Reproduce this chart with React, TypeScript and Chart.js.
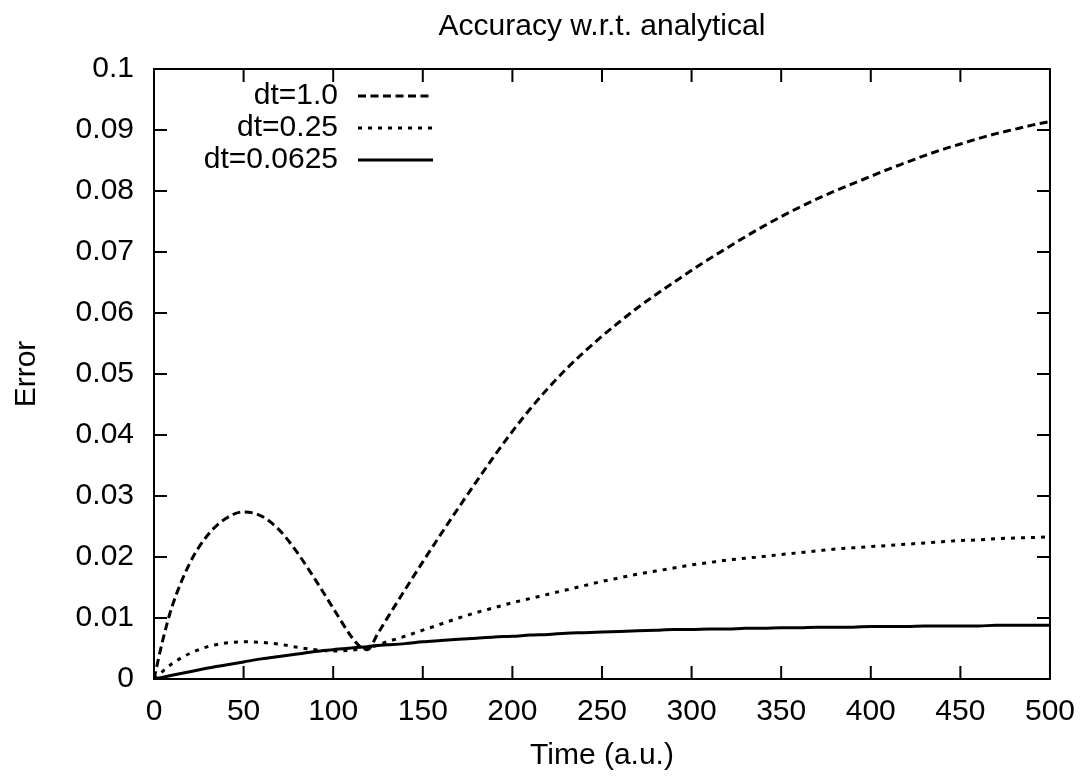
import React, { useEffect, useRef } from 'react';
import { Chart, registerables } from 'chart.js';

Chart.register(...registerables);

const times = [0, 5, 10, 20, 30, 40, 50, 60, 70, 80, 90, 100, 110, 115, 119, 125, 130, 140, 150, 160, 170, 180, 190, 200, 210, 220, 230, 240, 250, 260, 270, 280, 290, 300, 310, 320, 330, 340, 350, 360, 370, 380, 390, 400, 410, 420, 430, 440, 450, 460, 470, 480, 490, 500];

const errDt1 = [0, 0.0065, 0.0118, 0.0190, 0.0236, 0.0263, 0.0274, 0.0267, 0.0244, 0.0207, 0.0163, 0.0116, 0.0070, 0.0053, 0.0048, 0.0075, 0.0099, 0.0146, 0.0192, 0.0237, 0.0281, 0.0324, 0.0366, 0.0406, 0.0443, 0.0477, 0.0508, 0.0536, 0.0562, 0.0586, 0.0609, 0.0630, 0.0650, 0.0670, 0.0689, 0.0707, 0.0725, 0.0742, 0.0758, 0.0773, 0.0787, 0.0800, 0.0812, 0.0824, 0.0836, 0.0847, 0.0858, 0.0868, 0.0877, 0.0886, 0.0894, 0.0901, 0.0908, 0.0914];

const errDt025 = [0, 0.0013, 0.0025, 0.0042, 0.0053, 0.0059, 0.0061, 0.0060, 0.0057, 0.0052, 0.0048, 0.0046, 0.0047, 0.0049, 0.0051, 0.0056, 0.0061, 0.0070, 0.0080, 0.0090, 0.0100, 0.0109, 0.0117, 0.0125, 0.0132, 0.0139, 0.0146, 0.0153, 0.0160, 0.0166, 0.0172, 0.0177, 0.0182, 0.0187, 0.0191, 0.0195, 0.0198, 0.0201, 0.0204, 0.0207, 0.0210, 0.0213, 0.0215, 0.0217, 0.0219, 0.0221, 0.0223, 0.0225, 0.0227, 0.0228, 0.0230, 0.0231, 0.0232, 0.0233];

const errDt00625 = [0, 0.0003, 0.0006, 0.0012, 0.0018, 0.0023, 0.0028, 0.0033, 0.0037, 0.0041, 0.0045, 0.0048, 0.0051, 0.0052, 0.0053, 0.0055, 0.0056, 0.0058, 0.0061, 0.0063, 0.0065, 0.0067, 0.0069, 0.0070, 0.0072, 0.0073, 0.0075, 0.0076, 0.0077, 0.0078, 0.0079, 0.0080, 0.0081, 0.0081, 0.0082, 0.0082, 0.0083, 0.0083, 0.0084, 0.0084, 0.0085, 0.0085, 0.0085, 0.0086, 0.0086, 0.0086, 0.0087, 0.0087, 0.0087, 0.0087, 0.0088, 0.0088, 0.0088, 0.0088];

const seriesLabels = ['dt=1.0', 'dt=0.25', 'dt=0.0625'];
const xTickLabels = ['0', '50', '100', '150', '200', '250', '300', '350', '400', '450', '500'];
const yTickLabels = ['0', '0.01', '0.02', '0.03', '0.04', '0.05', '0.06', '0.07', '0.08', '0.09', '0.1'];

const FONT = "'Liberation Sans', Arial, Helvetica, sans-serif";
const FONT_SIZE = 30;

const frameTicksPlugin = {
  id: 'frameTicks',
  afterDraw(chart: any) {
    const { ctx, chartArea: a, scales } = chart;
    const x = scales.x;
    const y = scales.y;
    const L = 13;
    ctx.save();
    ctx.strokeStyle = '#000';
    ctx.lineWidth = 2;
    ctx.setLineDash([]);
    ctx.strokeRect(a.left, a.top, a.right - a.left, a.bottom - a.top);
    ctx.beginPath();
    x.ticks.forEach((t: any) => {
      const px = x.getPixelForValue(t.value);
      ctx.moveTo(px, a.bottom);
      ctx.lineTo(px, a.bottom - L);
      ctx.moveTo(px, a.top);
      ctx.lineTo(px, a.top + L);
    });
    y.ticks.forEach((t: any) => {
      const py = y.getPixelForValue(t.value);
      ctx.moveTo(a.left, py);
      ctx.lineTo(a.left + L, py);
      ctx.moveTo(a.right, py);
      ctx.lineTo(a.right - L, py);
    });
    ctx.stroke();
    ctx.restore();
  },
};

const keyPlugin = {
  id: 'insideKey',
  afterDraw(chart: any) {
    const { ctx, chartArea: a } = chart;
    const textRight = a.left + 184;
    const lineStart = a.left + 204;
    const lineEnd = a.left + 279;
    const rowTop = a.top + 27;
    const rowStep = 32;
    ctx.save();
    chart.data.datasets.forEach((ds: any, i: number) => {
      const yy = rowTop + i * rowStep;
      ctx.font = `${FONT_SIZE}px ${FONT}`;
      ctx.textAlign = 'right';
      ctx.textBaseline = 'middle';
      ctx.fillStyle = '#000';
      ctx.fillText(ds.label, textRight, yy);
      ctx.strokeStyle = ds.borderColor;
      ctx.lineWidth = ds.borderWidth;
      ctx.setLineDash(ds.borderDash || []);
      ctx.beginPath();
      ctx.moveTo(lineStart, yy);
      ctx.lineTo(lineEnd, yy);
      ctx.stroke();
    });
    ctx.restore();
  },
};

export default function App() {
  const canvasRef = useRef<HTMLCanvasElement | null>(null);

  useEffect(() => {
    if (!canvasRef.current) return;
    const mk = (vals: number[]) => times.map((t, i) => ({ x: t, y: vals[i] }));
    const chart = new Chart(canvasRef.current, {
      type: 'line',
      data: {
        datasets: [
          { label: seriesLabels[0], data: mk(errDt1), borderColor: '#000', borderWidth: 3, borderDash: [8, 4.5], pointRadius: 0, fill: false, cubicInterpolationMode: 'monotone' },
          { label: seriesLabels[1], data: mk(errDt025), borderColor: '#000', borderWidth: 3, borderDash: [4, 6], pointRadius: 0, fill: false, cubicInterpolationMode: 'monotone' },
          { label: seriesLabels[2], data: mk(errDt00625), borderColor: '#000', borderWidth: 3, borderDash: [], pointRadius: 0, fill: false, cubicInterpolationMode: 'monotone' },
        ] as any,
      },
      options: {
        animation: false,
        responsive: false,
        layout: { padding: { left: 0, right: 33, top: 0, bottom: 0 } },
        plugins: {
          legend: { display: false },
          tooltip: { enabled: false },
          title: {
            display: true,
            text: 'Accuracy w.r.t. analytical',
            color: '#000',
            fullSize: false,
            font: { family: FONT, size: FONT_SIZE, weight: 'normal' },
            padding: { top: 9, bottom: 24 },
          },
        },
        scales: {
          x: {
            type: 'linear',
            min: 0,
            max: 500,
            grid: { display: false, drawTicks: false },
            border: { display: false },
            ticks: {
              stepSize: 50,
              autoSkip: false,
              maxRotation: 0,
              minRotation: 0,
              color: '#000',
              padding: 15,
              font: { family: FONT, size: FONT_SIZE },
              callback: (_v: any, i: number) => xTickLabels[i],
            },
            title: {
              display: true,
              text: 'Time (a.u.)',
              color: '#000',
              font: { family: FONT, size: FONT_SIZE },
              padding: { top: 0, bottom: 6 },
            },
            afterFit: (s: any) => { s.height = 101; },
          },
          y: {
            type: 'linear',
            min: 0,
            max: 0.1,
            grid: { display: false, drawTicks: false },
            border: { display: false },
            ticks: {
              stepSize: 0.01,
              autoSkip: false,
              color: '#000',
              padding: 20,
              font: { family: FONT, size: FONT_SIZE },
              callback: (_v: any, i: number) => yTickLabels[i],
            },
            title: {
              display: true,
              text: 'Error',
              color: '#000',
              font: { family: FONT, size: FONT_SIZE },
              padding: { top: 9, bottom: 0 },
            },
            afterFit: (s: any) => { s.width = 154; },
          },
        },
      } as any,
      plugins: [frameTicksPlugin, keyPlugin],
    });
    return () => chart.destroy();
  }, []);

  return (
    <div style={{ position: 'absolute', left: 0, top: 0, width: 1090, height: 780, background: '#fff' }}>
      <canvas ref={canvasRef} width={1090} height={780} style={{ display: 'block' }} />
    </div>
  );
}
